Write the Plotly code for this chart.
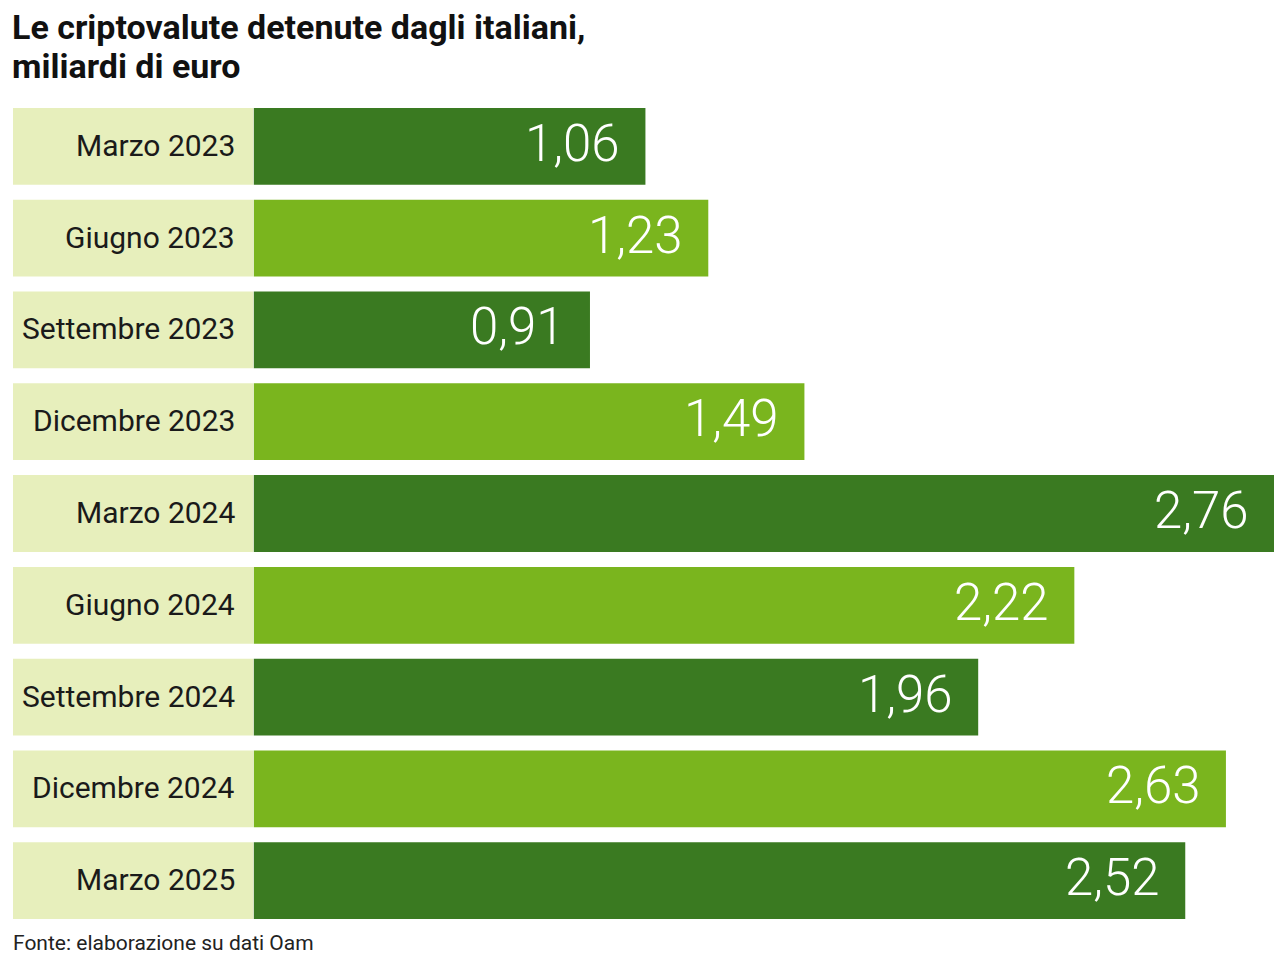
import plotly.graph_objects as go

categories = ["Marzo 2023", "Giugno 2023", "Settembre 2023", "Dicembre 2023",
              "Marzo 2024", "Giugno 2024", "Settembre 2024", "Dicembre 2024",
              "Marzo 2025"]
values = [1.06, 1.23, 0.91, 1.49, 2.76, 2.22, 1.96, 2.63, 2.52]
value_labels = ["1,06", "1,23", "0,91", "1,49", "2,76", "2,22", "1,96", "2,63", "2,52"]
title_lines = ["Le criptovalute detenute dagli italiani,", "miliardi di euro"]
source = "Fonte: elaborazione su dati Oam"

DARK = "#3a7a21"
LIGHT = "#7ab51e"
BOX = "#e7efbc"
FONT = "Roboto, Liberation Sans, sans-serif"

W, H = 1287, 965
bar_colors = [DARK if i % 2 == 0 else LIGHT for i in range(len(values))]

fig = go.Figure()
# label boxes
fig.add_trace(go.Bar(
    y=categories, x=[1] * len(categories), orientation="h",
    marker=dict(color=BOX, line=dict(width=0)),
    xaxis="x2", yaxis="y", hoverinfo="skip", showlegend=False,
))
# value bars
fig.add_trace(go.Bar(
    y=categories, x=values, orientation="h",
    marker=dict(color=bar_colors, line=dict(width=0)),
    xaxis="x", yaxis="y", hoverinfo="skip", showlegend=False,
))

annotations = []
for c in categories:
    annotations.append(dict(
        x=1, y=c, xref="x2", yref="y", text=c, showarrow=False,
        xanchor="right", yanchor="middle", xshift=-17, yshift=1,
        font=dict(family=FONT, size=30, color="#1a1a1a"),
    ))
for c, v, t in zip(categories, values, value_labels):
    annotations.append(dict(
        x=v, y=c, xref="x", yref="y", text=t, showarrow=False,
        xanchor="right", yanchor="middle", xshift=-23, yshift=3,
        font=dict(family=FONT, size=51, color="white", weight=300),
    ))
for i, line in enumerate(title_lines):
    annotations.append(dict(
        x=10 / W, y=1 - (27 + 39 * i) / H, xref="paper", yref="paper",
        xanchor="left", yanchor="middle", align="left", showarrow=False,
        text="<b>" + line + "</b>",
        font=dict(family=FONT, size=34, color="#111111"),
    ))
annotations.append(dict(
    x=11 / W, y=1 - 929 / H, xref="paper", yref="paper", xanchor="left", yanchor="top",
    align="left", showarrow=False, text=source,
    font=dict(family=FONT, size=21, color="#222222"),
))

top, bottom = 100.5, 926.5
fig.update_layout(
    width=W, height=H,
    margin=dict(l=0, r=0, t=0, b=0),
    paper_bgcolor="white", plot_bgcolor="white",
    bargap=15 / ((bottom - top) / 9),
    xaxis=dict(domain=[253.5 / W, 1274 / W], range=[0, max(values)], visible=False, fixedrange=True),
    xaxis2=dict(domain=[13 / W, 253.5 / W], range=[0, 1], visible=False, fixedrange=True),
    yaxis=dict(domain=[1 - bottom / H, 1 - top / H], autorange="reversed", visible=False,
               categoryorder="array", categoryarray=categories, fixedrange=True),
    annotations=annotations,
)

fig.write_html("out.html", config={"displayModeBar": False},
               post_script="document.body.style.margin='0';document.body.style.overflow='hidden';")
